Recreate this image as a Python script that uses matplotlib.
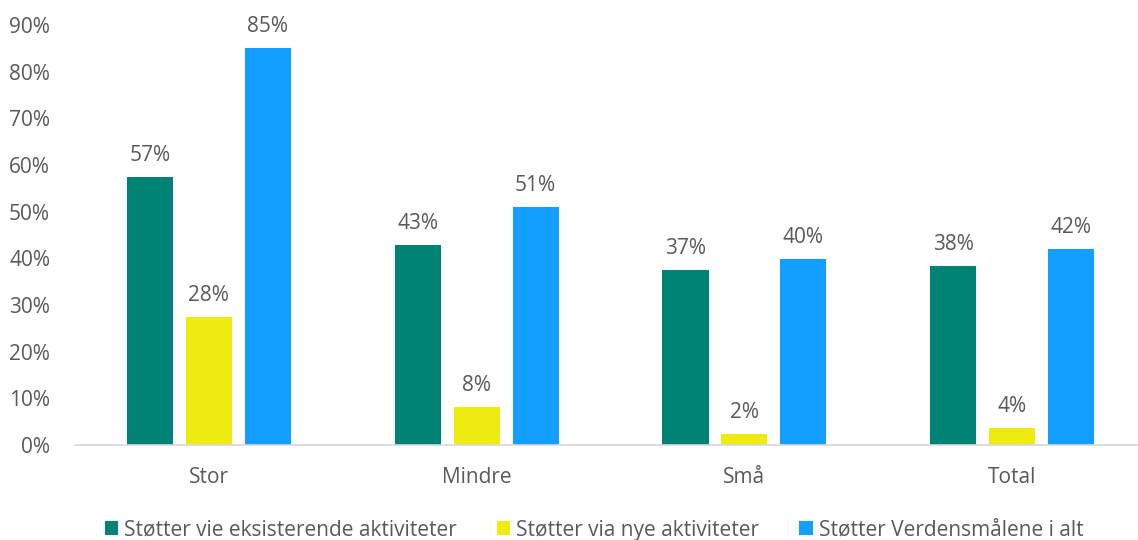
import matplotlib.pyplot as plt
import numpy as np

plt.rcParams['font.family'] = ['Open Sans', 'DejaVu Sans']

kategorier = ['Stor', 'Mindre', 'Små', 'Total']
eksisterende = [57.4, 42.9, 37.4, 38.4]
nye = [27.5, 8.2, 2.4, 3.7]
verdensmaal = [85.0, 51.0, 39.9, 42.0]
etiketter_eks = ['57%', '43%', '37%', '38%']
etiketter_nye = ['28%', '8%', '2%', '4%']
etiketter_vm = ['85%', '51%', '40%', '42%']

serier = ['Støtter vie eksisterende aktiviteter', 'Støtter via nye aktiviteter',
          'Støtter Verdensmålene i alt']
farger = ['#008275', '#EEEB10', '#139FFF']
tekstfarge = '#595959'

fig = plt.figure(figsize=(11.38, 5.4), dpi=100)
ax = fig.add_axes([75/1138, 95/540, 1063/1138, 420/540])

x = np.arange(len(kategorier))
bredde = 0.172
steg = 0.22
for i, (verdier, etik) in enumerate(zip([eksisterende, nye, verdensmaal],
                                        [etiketter_eks, etiketter_nye, etiketter_vm])):
    b = ax.bar(x + (i - 1) * steg, verdier, bredde, color=farger[i], label=serier[i])
    ax.bar_label(b, labels=etik, padding=8, fontsize=15, color=tekstfarge)

ax.set_xlim(-0.5, 3.47)
ax.set_ylim(0, 90)
ax.set_yticks(np.arange(0, 91, 10))
ax.set_yticklabels([f'{v}%' for v in range(0, 91, 10)])
ax.set_xticks(x)
ax.set_xticklabels(kategorier)
ax.tick_params(axis='both', length=0, labelsize=15, colors=tekstfarge)
ax.tick_params(axis='x', pad=16)
ax.tick_params(axis='y', pad=18)
for s in ['top', 'right', 'left']:
    ax.spines[s].set_visible(False)
ax.spines['bottom'].set_color('#D9D9D9')
ax.spines['bottom'].set_linewidth(1.2)

fig.legend(loc='lower center', bbox_to_anchor=(0.522, -0.036), ncol=3, frameon=False,
           fontsize=15, labelcolor=tekstfarge, handlelength=0.65, handleheight=0.65,
           handletextpad=0.3, columnspacing=1.9)

fig.savefig('out.png', dpi=100)
